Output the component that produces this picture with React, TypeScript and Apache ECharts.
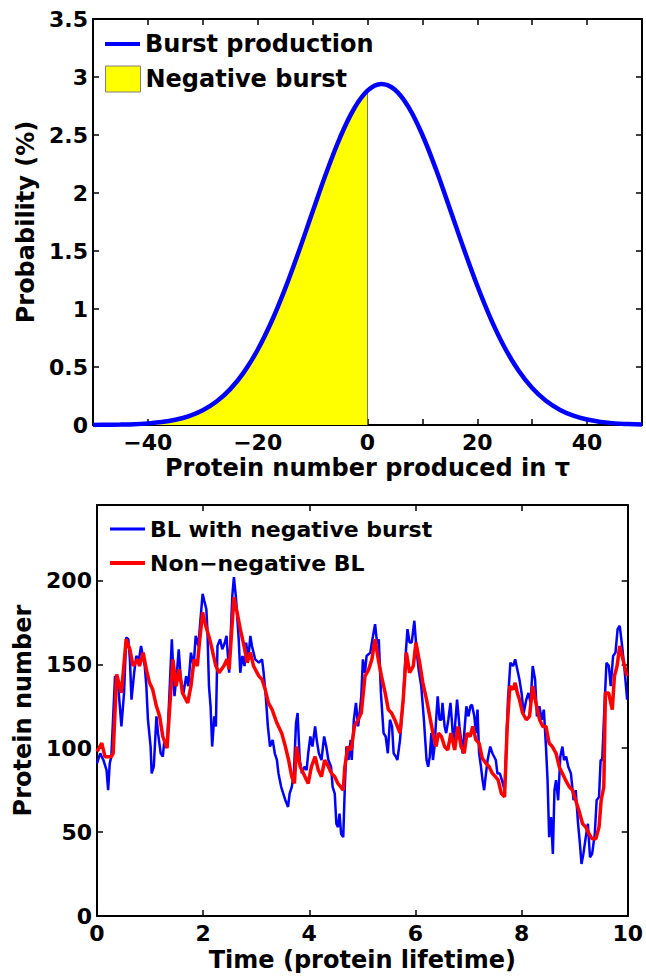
import React, { useEffect, useRef } from "react";
import * as echarts from "echarts";

// ---- Top panel: burst size distribution ----
const burstX = [
  -50, -47.5, -45, -42.5, -40, -37.5, -35, -32.5, -30, -27.5, -25, -22.5, -20, -17.5, -15, -12.5, -10, -7.5, -5, -2.5,
  0, 2.5, 5, 7.5, 10, 12.5, 15, 17.5, 20, 22.5, 25, 27.5, 30, 32.5, 35, 37.5, 40, 42.5, 45, 47.5, 50,
];
const burstY = [
  0.001, 0.002, 0.004, 0.007, 0.014, 0.025, 0.045, 0.077, 0.127, 0.202, 0.309, 0.456, 0.649, 0.89, 1.176, 1.498, 1.838,
  2.174, 2.478, 2.722, 2.882, 2.94, 2.89, 2.738, 2.5, 2.2, 1.865, 1.524, 1.2, 0.911, 0.666, 0.47, 0.319, 0.209, 0.132,
  0.08, 0.047, 0.027, 0.014, 0.008, 0.004,
];
const burstTicks = [-40, -20, 0, 20, 40];

// ---- Bottom panel: time series ----
const blueTime = [
  0, 0.06, 0.12, 0.18, 0.21, 0.24, 0.27, 0.34, 0.4, 0.46, 0.51, 0.55, 0.59, 0.62, 0.65, 0.7, 0.74, 0.79, 0.83, 0.9,
  0.93, 0.96, 1.01, 1.03, 1.07, 1.12, 1.15, 1.2, 1.24, 1.27, 1.32, 1.36, 1.41, 1.46, 1.51, 1.54, 1.58, 1.63, 1.68, 1.72,
  1.77, 1.82, 1.86, 1.91, 1.94, 1.99, 2.02, 2.06, 2.08, 2.11, 2.14, 2.17, 2.21, 2.24, 2.27, 2.32, 2.36, 2.41, 2.44, 2.49,
  2.55, 2.58, 2.62, 2.67, 2.7, 2.74, 2.78, 2.81, 2.85, 2.89, 2.92, 2.98, 3.05, 3.11, 3.14, 3.18, 3.22, 3.26, 3.31, 3.35,
  3.39, 3.42, 3.47, 3.51, 3.55, 3.6, 3.63, 3.67, 3.71, 3.75, 3.78, 3.82, 3.86, 3.91, 3.95, 3.98, 4.02, 4.06, 4.11, 4.14,
  4.18, 4.23, 4.28, 4.32, 4.36, 4.41, 4.44, 4.48, 4.51, 4.54, 4.57, 4.6, 4.64, 4.67, 4.7, 4.74, 4.78, 4.8, 4.84, 4.88,
  4.92, 4.95, 4.98, 5.01, 5.05, 5.08, 5.15, 5.19, 5.24, 5.28, 5.31, 5.35, 5.4, 5.44, 5.48, 5.52, 5.56, 5.59, 5.63, 5.66,
  5.71, 5.77, 5.81, 5.85, 5.89, 5.93, 5.98, 6.02, 6.06, 6.11, 6.16, 6.21, 6.24, 6.27, 6.3, 6.33, 6.36, 6.39, 6.42, 6.455,
  6.49, 6.51, 6.55, 6.58, 6.62, 6.66, 6.69, 6.72, 6.755, 6.785, 6.83, 6.86, 6.89, 6.92, 6.96, 7.0, 7.035, 7.065, 7.11,
  7.14, 7.17, 7.2, 7.235, 7.265, 7.295, 7.33, 7.36, 7.41, 7.45, 7.515, 7.545, 7.59, 7.63, 7.68, 7.713, 7.744, 7.79, 7.84,
  7.88, 7.92, 7.96, 8.0, 8.04, 8.09, 8.13, 8.17, 8.21, 8.255, 8.29, 8.336, 8.38, 8.42, 8.46, 8.49, 8.52, 8.555, 8.59,
  8.62, 8.65, 8.69, 8.73, 8.77, 8.8, 8.84, 8.88, 8.93, 8.98, 9.02, 9.065, 9.1, 9.13, 9.165, 9.21, 9.25, 9.29, 9.33, 9.38,
  9.415, 9.46, 9.49, 9.52, 9.56, 9.6, 9.645, 9.68, 9.725, 9.77, 9.81, 9.85, 9.895, 9.94, 9.99,
];
const blueCount = [
  91, 97, 93, 87, 75, 91, 95, 143, 137, 113, 133, 166, 165, 153, 129, 145, 155, 153, 161, 149, 137, 117, 101, 85, 89,
  119, 109, 97, 95, 105, 101, 129, 165, 131, 147, 159, 141, 133, 143, 137, 157, 149, 167, 161, 173, 192, 188, 183, 171,
  137, 125, 101, 119, 113, 161, 165, 159, 163, 167, 145, 191, 202, 189, 165, 145, 155, 149, 163, 153, 167, 161, 153, 151,
  153, 145, 131, 113, 101, 105, 97, 93, 85, 77, 73, 69, 65, 73, 77, 85, 115, 121, 93, 85, 89, 87, 97, 107, 101, 113, 105,
  97, 93, 107, 101, 93, 89, 77, 73, 55, 53, 61, 49, 47, 77, 101, 93, 105, 93, 117, 127, 113, 121, 131, 153, 145, 155,
  157, 165, 174, 162, 165, 133, 109, 107, 97, 117, 113, 97, 95, 93, 105, 129, 153, 171, 163, 163, 176, 159, 147, 137,
  117, 93, 89, 95, 109, 93, 101, 117, 131, 117, 117, 127, 113, 109, 117, 127, 115, 101, 117, 129, 113, 105, 97, 109, 125,
  119, 125, 126, 119, 109, 123, 97, 89, 81, 75, 85, 93, 101, 97, 93, 85, 85, 81, 75, 101, 129, 151, 149, 153, 147, 141,
  133, 121, 129, 133, 127, 149, 141, 119, 125, 117, 123, 101, 81, 47, 59, 37, 75, 81, 69, 95, 101, 93, 95, 89, 85, 69,
  75, 55, 43, 31, 37, 47, 55, 35, 37, 49, 69, 71, 93, 93, 123, 151, 149, 137, 155, 157, 171, 173, 161, 147, 129,
];
const redTime = [
  0, 0.09, 0.15, 0.27, 0.305, 0.37, 0.46, 0.55, 0.62, 0.68, 0.77, 0.8, 0.87, 0.93, 0.99, 1.05, 1.12, 1.18, 1.24, 1.32,
  1.38, 1.43, 1.49, 1.55, 1.61, 1.71, 1.77, 1.83, 1.89, 1.93, 1.99, 2.05, 2.14, 2.24, 2.3, 2.39, 2.45, 2.49, 2.58, 2.64,
  2.7, 2.77, 2.83, 2.89, 2.95, 3.05, 3.11, 3.17, 3.23, 3.3, 3.39, 3.48, 3.55, 3.61, 3.67, 3.72, 3.76, 3.83, 3.92, 3.98,
  4.04, 4.11, 4.17, 4.23, 4.29, 4.36, 4.42, 4.48, 4.54, 4.64, 4.67, 4.73, 4.79, 4.85, 4.92, 4.98, 5.05, 5.12, 5.18, 5.24,
  5.3, 5.36, 5.43, 5.49, 5.55, 5.61, 5.71, 5.77, 5.83, 5.89, 5.96, 6.01, 6.08, 6.14, 6.21, 6.27, 6.33, 6.39, 6.435, 6.49,
  6.55, 6.61, 6.67, 6.74, 6.8, 6.86, 6.92, 6.97, 7.03, 7.08, 7.14, 7.2, 7.26, 7.33, 7.39, 7.45, 7.51, 7.56, 7.62, 7.68,
  7.73, 7.78, 7.84, 7.88, 7.92, 7.96, 8.02, 8.09, 8.15, 8.21, 8.27, 8.34, 8.4, 8.46, 8.52, 8.58, 8.65, 8.71, 8.77, 8.83,
  8.9, 8.96, 9.02, 9.08, 9.15, 9.21, 9.27, 9.33, 9.4, 9.46, 9.5, 9.55, 9.58, 9.64, 9.71, 9.75, 9.8, 9.85, 9.91, 9.99,
];
const redCount = [
  98, 103, 95, 95, 97, 144, 133, 165, 159, 149, 153, 149, 157, 147, 139, 135, 125, 119, 107, 100, 129, 153, 137, 147,
  133, 127, 137, 153, 149, 163, 181, 173, 163, 149, 145, 149, 153, 147, 190, 181, 171, 161, 151, 157, 149, 143, 141, 135,
  127, 123, 115, 109, 101, 93, 83, 79, 101, 89, 83, 79, 89, 95, 87, 83, 93, 89, 85, 83, 79, 75, 89, 101, 99, 113, 117,
  121, 143, 147, 153, 165, 153, 143, 133, 123, 121, 117, 109, 129, 157, 145, 149, 163, 151, 139, 129, 119, 109, 101, 109,
  107, 101, 99, 109, 99, 113, 101, 97, 109, 107, 113, 105, 103, 94, 91, 89, 85, 83, 81, 73, 71, 113, 137, 135, 139, 133,
  129, 121, 117, 119, 137, 127, 117, 113, 113, 103, 101, 97, 89, 85, 81, 77, 75, 69, 63, 55, 53, 49, 46, 46, 53, 69, 77,
  133, 133, 123, 143, 149, 161, 153, 143,
];
const timeTicks = [0, 2, 4, 6, 8, 10];
const countTicks = [0, 50, 100, 150, 200];

const FONT = "DejaVu Sans";
const BLUE = "#0000ff";
const RED = "#ff0000";
const YELLOW = "#ffff00";

const fmtMinus = (v: number) => (v < 0 ? "\u2212" + Math.abs(v) : String(v));

export default function App() {
  const ref = useRef<HTMLDivElement>(null);

  useEffect(() => {
    document.body.style.margin = "0";
    const chart = echarts.init(ref.current!, null, { renderer: "svg", width: 646, height: 978 });

    const burstData = burstX.map((x, i) => [x, burstY[i]]);
    const negData = burstX.map((x, i) => [x, burstY[i]]).filter((d) => d[0] <= 0);
    const zeroIdx = burstX.indexOf(0);
    const edgeData = [
      [0, 0],
      [0, burstY[zeroIdx]],
    ];
    const blueData = blueTime.map((t, i) => [t, blueCount[i]]);
    const redData = redTime.map((t, i) => [t, redCount[i]]);

    const labelStyle = {
      color: "#000",
      fontFamily: FONT,
      fontWeight: "bold" as const,
      fontSize: 22,
      lineHeight: 22,
    };
    const nameStyle = {
      color: "#000",
      fontFamily: FONT,
      fontWeight: "bold" as const,
      fontSize: 24,
      lineHeight: 24,
    };
    const line = { show: true, onZero: false, lineStyle: { color: "#000", width: 2 } };
    const tick = { show: true, inside: true, length: 6, lineStyle: { color: "#000", width: 1.5 } };

    const legendText = (size: number) => ({
      color: "#000",
      fontFamily: FONT,
      fontWeight: "bold" as const,
      fontSize: size,
      lineHeight: 28,
    });

    chart.setOption({
      animation: false,
      backgroundColor: "#fff",
      grid: [
        { left: 93, top: 19, width: 549, height: 406, containLabel: false },
        { left: 97, top: 505, width: 535, height: 411, containLabel: false },
      ],
      xAxis: [
        {
          type: "value",
          gridIndex: 0,
          position: "bottom",
          min: -50,
          max: 50,
          interval: 10,
          axisLine: line,
          axisTick: tick,
          splitLine: { show: false },
          axisLabel: {
            ...labelStyle,
            margin: 6,
            formatter: (v: number) => (burstTicks.includes(v) ? fmtMinus(v) : ""),
          },
          name: "Protein number produced in \u03c4",
          nameLocation: "middle",
          nameGap: 31,
          nameTextStyle: nameStyle,
        },
        {
          type: "value",
          gridIndex: 0,
          position: "top",
          min: -50,
          max: 50,
          interval: 10,
          axisLine: line,
          axisTick: tick,
          splitLine: { show: false },
          axisLabel: { show: false },
        },
        {
          type: "value",
          gridIndex: 1,
          position: "bottom",
          min: 0,
          max: 10,
          interval: 2,
          axisLine: line,
          axisTick: tick,
          splitLine: { show: false },
          axisLabel: {
            ...labelStyle,
            margin: 6,
            formatter: (v: number) => (timeTicks.includes(v) ? String(v) : ""),
          },
          name: "Time (protein lifetime)",
          nameLocation: "middle",
          nameGap: 32,
          nameTextStyle: nameStyle,
        },
        {
          type: "value",
          gridIndex: 1,
          position: "top",
          min: 0,
          max: 10,
          interval: 2,
          axisLine: line,
          axisTick: tick,
          splitLine: { show: false },
          axisLabel: { show: false },
        },
      ],
      yAxis: [
        {
          type: "value",
          gridIndex: 0,
          position: "left",
          min: 0,
          max: 3.5,
          interval: 0.5,
          axisLine: line,
          axisTick: tick,
          splitLine: { show: false },
          axisLabel: { ...labelStyle, margin: 5 },
          name: "Probability (%)",
          nameLocation: "middle",
          nameGap: 48,
          nameRotate: 90,
          nameTextStyle: nameStyle,
        },
        {
          type: "value",
          gridIndex: 0,
          position: "right",
          min: 0,
          max: 3.5,
          interval: 0.5,
          axisLine: line,
          axisTick: tick,
          splitLine: { show: false },
          axisLabel: { show: false },
        },
        {
          type: "value",
          gridIndex: 1,
          position: "left",
          min: 0,
          max: 245,
          interval: 50,
          axisLine: line,
          axisTick: tick,
          splitLine: { show: false },
          axisLabel: {
            ...labelStyle,
            margin: 5,
            formatter: (v: number) => (countTicks.includes(v) ? String(v) : ""),
          },
          name: "Protein number",
          nameLocation: "middle",
          nameGap: 55,
          nameRotate: 90,
          nameTextStyle: nameStyle,
        },
        {
          type: "value",
          gridIndex: 1,
          position: "right",
          min: 0,
          max: 245,
          interval: 50,
          axisLine: line,
          axisTick: tick,
          splitLine: { show: false },
          axisLabel: { show: false },
        },
      ],
      legend: [
        {
          data: [{ name: "Burst production", icon: "rect", itemStyle: { color: BLUE, borderWidth: 0 } }],
          left: 105,
          top: 30,
          padding: 0,
          itemWidth: 35,
          itemHeight: 4,
          itemGap: 0,
          selectedMode: false,
          textStyle: legendText(24),
        },
        {
          data: [
            {
              name: "Negative burst",
              icon: "rect",
              itemStyle: { color: YELLOW, borderColor: "#808080", borderWidth: 1 },
            },
          ],
          left: 105,
          top: 65,
          padding: 0,
          itemWidth: 35,
          itemHeight: 26,
          itemGap: 0,
          selectedMode: false,
          textStyle: legendText(24),
        },
        {
          data: [{ name: "BL with negative burst", icon: "rect", itemStyle: { color: BLUE, borderWidth: 0 } }],
          left: 110,
          top: 515,
          padding: 0,
          itemWidth: 35,
          itemHeight: 3,
          itemGap: 0,
          selectedMode: false,
          textStyle: legendText(22),
        },
        {
          data: [{ name: "Non\u2212negative BL", icon: "rect", itemStyle: { color: RED, borderWidth: 0 } }],
          left: 110,
          top: 549,
          padding: 0,
          itemWidth: 35,
          itemHeight: 4,
          itemGap: 0,
          selectedMode: false,
          textStyle: legendText(22),
        },
      ],
      series: [
        {
          name: "Negative burst",
          type: "line",
          xAxisIndex: 0,
          yAxisIndex: 0,
          data: negData,
          smooth: 0.4,
          symbol: "none",
          color: YELLOW,
          itemStyle: { color: YELLOW },
          lineStyle: { width: 0 },
          areaStyle: { color: YELLOW, opacity: 1 },
          z: 1,
        },
        {
          name: "edge",
          type: "line",
          xAxisIndex: 0,
          yAxisIndex: 0,
          data: edgeData,
          symbol: "none",
          lineStyle: { color: "#555", width: 0.8 },
          z: 2,
        },
        {
          name: "Burst production",
          type: "line",
          xAxisIndex: 0,
          yAxisIndex: 0,
          data: burstData,
          smooth: 0.4,
          symbol: "none",
          color: BLUE,
          itemStyle: { color: BLUE },
          lineStyle: { color: BLUE, width: 4.5 },
          z: 3,
        },
        {
          name: "BL with negative burst",
          type: "line",
          xAxisIndex: 2,
          yAxisIndex: 2,
          data: blueData,
          symbol: "none",
          color: BLUE,
          itemStyle: { color: BLUE },
          lineStyle: { color: BLUE, width: 2.5 },
          z: 2,
        },
        {
          name: "Non\u2212negative BL",
          type: "line",
          xAxisIndex: 2,
          yAxisIndex: 2,
          data: redData,
          symbol: "none",
          color: RED,
          itemStyle: { color: RED },
          lineStyle: { color: RED, width: 3.5 },
          z: 3,
        },
      ],
    });

    return () => chart.dispose();
  }, []);

  return (
    <div
      ref={ref}
      style={{ position: "absolute", left: 0, top: 0, width: 646, height: 978, background: "#fff" }}
    />
  );
}
